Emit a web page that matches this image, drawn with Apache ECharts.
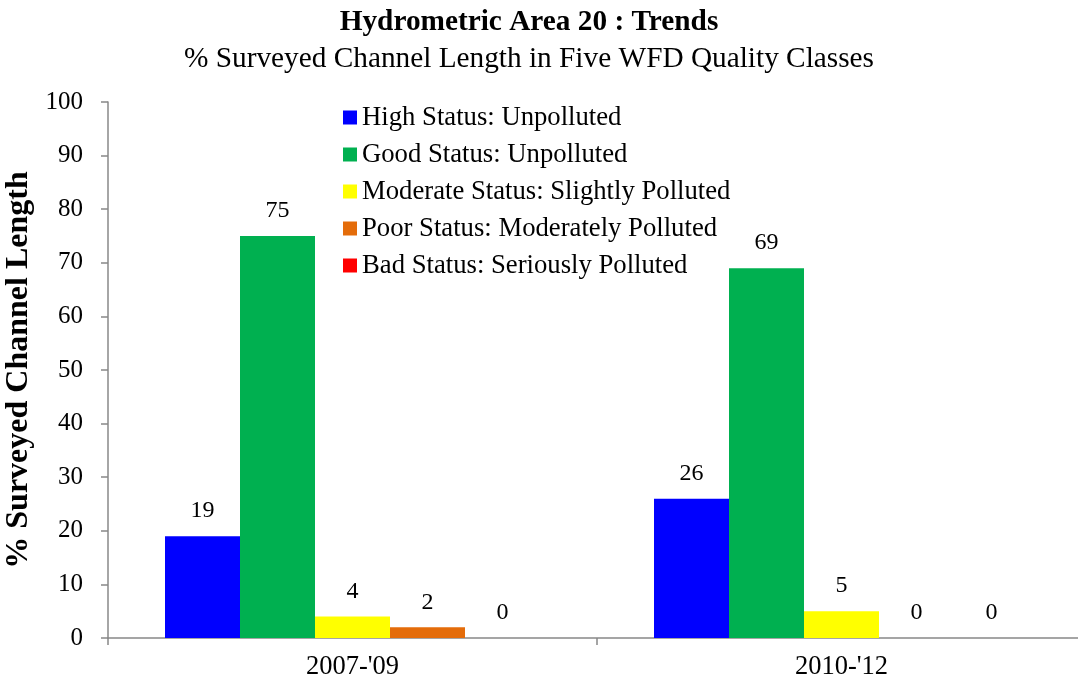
<!DOCTYPE html>
<html>
<head>
<meta charset="utf-8">
<script src="https://cdn.jsdelivr.net/npm/echarts@6/dist/echarts.min.js"></script>
<style>html,body{margin:0;padding:0;background:#fff;}#c{width:1078px;height:682px;}</style>
</head>
<body>
<div id="c"></div>
<script>
const categories = ["2007-'09", "2010-'12"];
const seriesNames = ["High Status: Unpolluted", "Good Status: Unpolluted", "Moderate Status: Slightly Polluted", "Poor Status: Moderately Polluted", "Bad Status: Seriously Polluted"];
const highValues = [19, 26];
const goodValues = [75, 69];
const moderateValues = [4, 5];
const poorValues = [2, 0];
const badValues = [0, 0];
const seriesColors = ["#0000FF", "#00B050", "#FFFF00", "#E46C0A", "#FF0000"];
const yTicks = [0, 10, 20, 30, 40, 50, 60, 70, 80, 90, 100];

const FONT = "Liberation Serif";
const values = [highValues, goodValues, moderateValues, poorValues, badValues];

const chart = echarts.init(document.getElementById('c'));
chart.setOption({
  animation: false,
  textStyle: { fontFamily: FONT },
  title: [
    { text: 'Hydrometric Area 20 : Trends', left: 524, top: 3, textAlign: 'center',
      textStyle: { fontFamily: FONT, fontSize: 29.3, fontWeight: 'bold', color: '#000' } },
    { text: '% Surveyed Channel Length in Five WFD Quality Classes', left: 524, top: 40, textAlign: 'center',
      textStyle: { fontFamily: FONT, fontSize: 29.3, fontWeight: 'normal', color: '#000' } }
  ],
  legend: {
    orient: 'vertical', left: 338, top: 99, itemWidth: 14, itemHeight: 14, itemGap: 10,
    icon: 'rect',
    data: seriesNames,
    textStyle: { fontFamily: FONT, fontSize: 26.7, color: '#000' }
  },
  grid: { left: 108, right: -8, top: 102, bottom: 44, containLabel: false, outerBoundsMode: 'none' },
  xAxis: {
    type: 'category', data: categories,
    axisLine: { lineStyle: { color: '#888', width: 1.5 } },
    axisTick: { show: true, length: 7, lineStyle: { color: '#888', width: 1.5 } },
    axisLabel: { fontFamily: FONT, fontSize: 26.5, color: '#000', margin: 16 }
  },
  yAxis: {
    type: 'value', min: yTicks[0], max: yTicks[yTicks.length - 1], interval: 10,
    name: '% Surveyed Channel Length', nameLocation: 'middle', nameGap: 69,
    nameTextStyle: { fontFamily: FONT, fontSize: 32, fontWeight: 'bold', color: '#000' },
    axisLine: { show: true, lineStyle: { color: '#888', width: 1.5 } },
    axisTick: { show: true, length: 7, lineStyle: { color: '#888', width: 1.5 } },
    axisLabel: { fontFamily: FONT, fontSize: 25, color: '#000', margin: 25 },
    splitLine: { show: false }
  },
  series: seriesNames.map((n, i) => ({
    name: n, type: 'bar', data: values[i], barWidth: 75, barGap: '0%',
    itemStyle: { color: seriesColors[i] },
    label: { show: true, position: 'top', distance: 13, fontFamily: FONT, fontSize: 24, color: '#000' }
  }))
});
</script>
</body>
</html>
